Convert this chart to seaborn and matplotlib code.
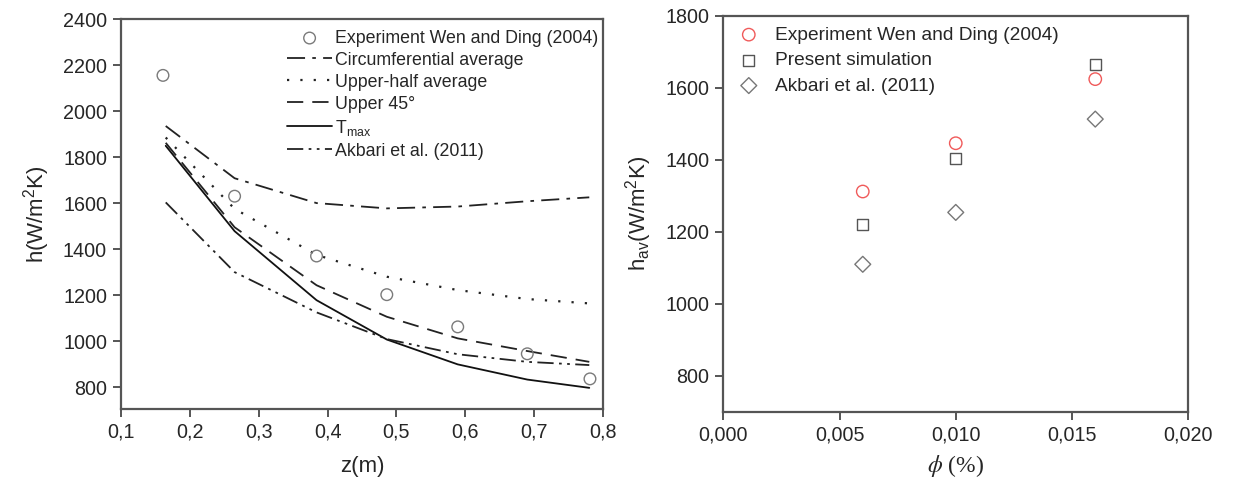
import matplotlib
matplotlib.use("Agg")
import matplotlib.pyplot as plt
import seaborn as sns
import numpy as np

# ---- axial distribution of heat transfer coefficient ----
z_exp = [0.161, 0.265, 0.384, 0.486, 0.589, 0.690, 0.781]
h_exp = [2155, 1630, 1370, 1202, 1062, 945, 836]

z_sim = [0.165, 0.265, 0.384, 0.486, 0.589, 0.690, 0.780]
h_circ = [1935, 1708, 1600, 1577, 1585, 1608, 1625]
h_upper_half = [1885, 1575, 1375, 1280, 1222, 1183, 1164]
h_upper45 = [1862, 1495, 1243, 1106, 1012, 957, 910]
h_tmax = [1849, 1478, 1178, 1007, 899, 833, 797]
h_akbari = [1603, 1300, 1125, 1009, 943, 910, 896]

# ---- average coefficient vs. volume fraction ----
phi = [0.006, 0.010, 0.016]
hav_exp = [1312, 1446, 1624]
hav_sim = [1220, 1404, 1665]
hav_akbari = [1110, 1254, 1513]

sns.set_theme(style="ticks")
plt.rcParams["font.family"] = ["Liberation Sans", "DejaVu Sans"]
plt.rcParams["mathtext.fontset"] = "custom"
plt.rcParams["mathtext.rm"] = "Liberation Sans"
plt.rcParams["mathtext.it"] = "Liberation Sans:italic"

fig = plt.figure(figsize=(12.47, 4.79), dpi=100)
ax1 = fig.add_axes([0.0970, 0.1461, 0.3866, 0.8142])
ax2 = fig.add_axes([0.5800, 0.1399, 0.3729, 0.8273])

spine_col = "#555555"
for ax in (ax1, ax2):
    for s in ax.spines.values():
        s.set_color(spine_col)
        s.set_linewidth(1.6)
    ax.tick_params(direction="out", length=6, width=1.4, color=spine_col,
                   labelsize=14.2, pad=4)

# left panel
sns.scatterplot(x=z_exp, y=h_exp, ax=ax1, marker="o", s=70,
                facecolor="none", edgecolor="#7a7a7a", linewidth=1.0,
                label="Experiment Wen and Ding (2004)", zorder=5)
lw = 1.3
sns.lineplot(x=z_sim, y=h_circ, ax=ax1, color="#222222", lw=lw,
             linestyle=(0, (10, 4, 2, 4)), label="Circumferential average")
sns.lineplot(x=z_sim, y=h_upper_half, ax=ax1, color="#222222", lw=lw + 0.3,
             linestyle=(0, (1, 5)), label="Upper-half average")
sns.lineplot(x=z_sim, y=h_upper45, ax=ax1, color="#222222", lw=lw,
             linestyle=(0, (9, 5)), label="Upper 45\u00b0")
sns.lineplot(x=z_sim, y=h_tmax, ax=ax1, color="#111111", lw=lw,
             linestyle="-", label=r"T$_{\mathregular{max}}$")
sns.lineplot(x=z_sim, y=h_akbari, ax=ax1, color="#222222", lw=lw,
             linestyle=(0, (9, 3, 1.5, 3, 1.5, 3)), label="Akbari et al. (2011)")

ax1.set_xlim(0.1, 0.8)
ax1.set_ylim(705, 2400)
ax1.set_xticks(np.arange(0.1, 0.81, 0.1))
ax1.set_xticklabels([f"{v:.1f}".replace(".", ",") for v in np.arange(0.1, 0.81, 0.1)])
ax1.set_yticks(np.arange(800, 2401, 200))
ax1.set_xlabel("z(m)", fontsize=16, labelpad=10)
ax1.set_ylabel(r"h(W/m$^{\mathregular{2}}$K)", fontsize=16, labelpad=8)
ax1.legend(loc="upper right", bbox_to_anchor=(1.0, 0.984), frameon=False,
           fontsize=12.8, handlelength=2.5, handletextpad=0.2,
           labelspacing=0.28, borderaxespad=0.0, borderpad=0.25)

# right panel
sns.scatterplot(x=phi, y=hav_exp, ax=ax2, marker="o", s=80,
                facecolor="none", edgecolor="#f05a5a", linewidth=1.0,
                label="Experiment Wen and Ding (2004)")
sns.scatterplot(x=phi, y=hav_sim, ax=ax2, marker="s", s=65,
                facecolor="none", edgecolor="#555555", linewidth=1.0,
                label="Present simulation")
sns.scatterplot(x=phi, y=hav_akbari, ax=ax2, marker="D", s=65,
                facecolor="none", edgecolor="#777777", linewidth=1.0,
                label="Akbari et al. (2011)")

ax2.set_xlim(0.0, 0.020)
ax2.set_ylim(700, 1800)
ax2.set_xticks([0.0, 0.005, 0.010, 0.015, 0.020])
ax2.set_xticklabels(["0,000", "0,005", "0,010", "0,015", "0,020"])
ax2.set_yticks(np.arange(800, 1801, 200))
ax2.set_xlabel(r"$\phi$ (%)", fontsize=17, family="Liberation Serif", labelpad=6)
ax2.set_ylabel(r"h$_{\mathregular{av}}$(W/m$^{\mathregular{2}}$K)", fontsize=16, labelpad=8)
ax2.legend(loc="upper left", bbox_to_anchor=(-0.009, 1.0), frameon=False,
           fontsize=13.8, handletextpad=0.35,
           labelspacing=0.42, borderaxespad=0.25, borderpad=0.3)

# serif italic phi for the volume-fraction axis
ax2.xaxis.label.set_math_fontfamily("stix")

fig.savefig("out.png", dpi=100)
